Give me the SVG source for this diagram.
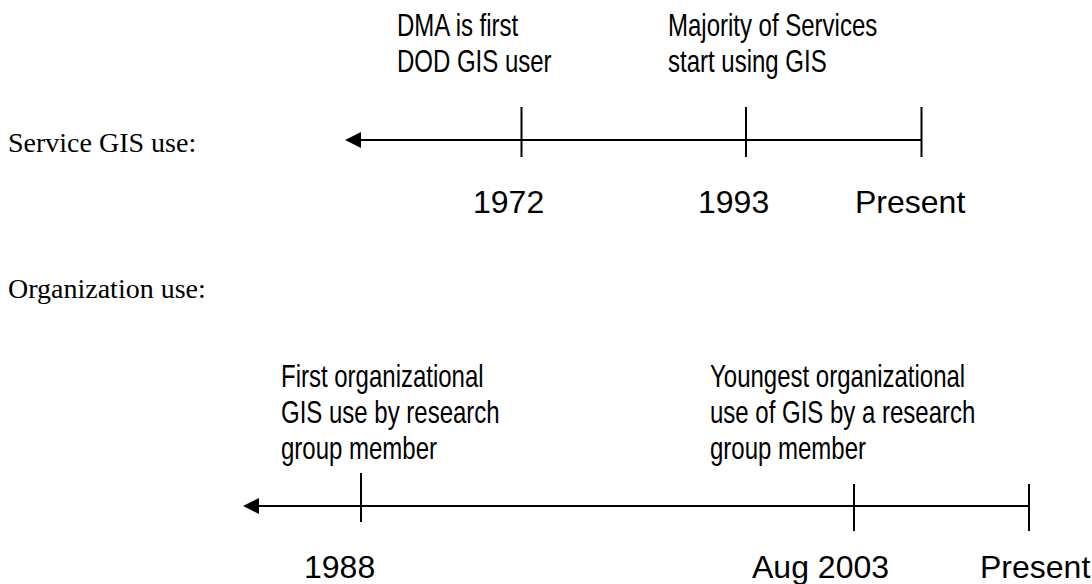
<svg xmlns="http://www.w3.org/2000/svg" width="1092" height="584" viewBox="0 0 1092 584">
<style>
.s{font-family:"Liberation Sans",Arial,sans-serif;font-size:32px;fill:#000}
.y{font-family:"Liberation Sans",Arial,sans-serif;font-size:32px;fill:#000}
.r{font-family:"Liberation Serif","Times New Roman",serif;font-size:28px;fill:#000}
.ax{stroke:#000;stroke-width:2;fill:none}
</style>
<defs>
<marker id="ah" viewBox="0 0 16 16" refX="1" refY="8" markerUnits="userSpaceOnUse" markerWidth="16" markerHeight="16" orient="auto-start-reverse">
<path d="M0,0 L16,8 L0,16 Z" fill="#000"/>
</marker>
</defs>
<g id="label-service"><text class="r" x="8" y="152">Service GIS use:</text></g>
<g id="label-org"><text class="r" x="8" y="298">Organization use:</text></g>
<g id="connectors">
<line class="ax" x1="360" y1="140" x2="922" y2="140" marker-start="url(#ah)"/>
<line class="ax" x1="521.5" y1="107" x2="521.5" y2="157"/>
<line class="ax" x1="746" y1="107" x2="746" y2="157"/>
<line class="ax" x1="921.5" y1="107" x2="921.5" y2="157"/>
<line class="ax" x1="258" y1="506" x2="1029" y2="506" marker-start="url(#ah)"/>
<line class="ax" x1="361" y1="473" x2="361" y2="522"/>
<line class="ax" x1="854" y1="484" x2="854" y2="531"/>
<line class="ax" x1="1029" y1="484" x2="1029" y2="531"/>
</g>
<g id="event-dma"><text class="s" transform="matrix(0.75 0 0 1 397 36)">DMA is first</text><text class="s" transform="matrix(0.75 0 0 1 397 72)">DOD GIS user</text></g>
<g id="event-majority"><text class="s" transform="matrix(0.75 0 0 1 668 36)">Majority of Services</text><text class="s" transform="matrix(0.75 0 0 1 668 72)">start using GIS</text></g>
<g id="year-1972"><text class="y" x="473" y="213">1972</text></g>
<g id="year-1993"><text class="y" x="698" y="213">1993</text></g>
<g id="year-present1"><text class="y" x="855" y="213">Present</text></g>
<g id="event-first"><text class="s" transform="matrix(0.75 0 0 1 281 387)">First organizational</text><text class="s" transform="matrix(0.75 0 0 1 281 423)">GIS use by research</text><text class="s" transform="matrix(0.75 0 0 1 281 459)">group member</text></g>
<g id="event-youngest"><text class="s" transform="matrix(0.75 0 0 1 710 387)">Youngest organizational</text><text class="s" transform="matrix(0.75 0 0 1 710 423)">use of GIS by a research</text><text class="s" transform="matrix(0.75 0 0 1 710 459)">group member</text></g>
<g id="year-1988"><text class="y" x="304" y="578">1988</text></g>
<g id="year-2003"><text class="y" x="752" y="578">Aug 2003</text></g>
<g id="year-present2"><text class="y" x="980" y="578">Present</text></g>
</svg>
